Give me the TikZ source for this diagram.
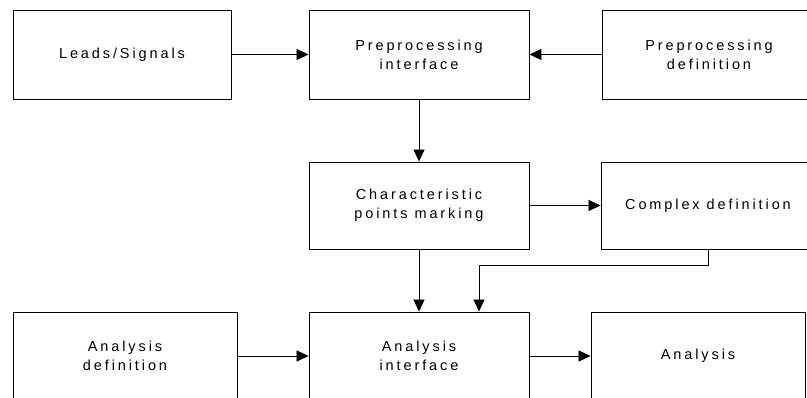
\documentclass[tikz,border=0pt]{standalone}
\usepackage{fontspec}
\newfontfamily\boxfont[LetterSpace=20]{Liberation Sans}
\usetikzlibrary{arrows.meta}
\tikzset{
  >={Triangle[length=12pt,width=11pt]},
  blk/.style={rectangle,draw,line width=0.9pt,minimum width=220pt,minimum height=89pt,inner sep=0pt,align=center,font=\boxfont\fontsize{14.5}{19}\selectfont},
  every picture/.style={line width=0.8pt},
}
\begin{document}
\begin{tikzpicture}[x=1pt,y=-1pt]
\useasboundingbox (0,0) rectangle (807,398); \clip (0,0) rectangle (807,398);
\node[blk,minimum width=218pt] (ls) at (122,54.5){Leads/Signals};
\node[blk] (pi) at (419,54.5){Preprocessing\\interface};
\node[blk,minimum width=214pt] (pd) at (709,54.5){Preprocessing\\definition};
\node[blk,minimum height=87pt] (cp) at (419,205.5){Characteristic\\points marking};
\node[blk,minimum width=214pt,minimum height=87pt] (cd) at (708,205.5){Complex definition};
\node[blk,minimum width=224pt,minimum height=88pt] (ad) at (125,356){Analysis\\definition};
\node[blk,minimum height=88pt] (ai) at (419,356){Analysis\\interface};
\node[blk,minimum width=214pt,minimum height=88pt] (an) at (698,356){Analysis};
\coordinate (j) at (479,265);
\draw[->] (ls)--(pi); \draw[->] (pd)--(pi); \draw[->] (pi)--(cp); \draw[->] (cp)--(cd);
\draw[->] (cp)--(ai); \draw[->] (cd.south) |- (j) -- (j |- ai.north);
\draw[->] (ad)--(ai); \draw[->] (ai)--(an);
\end{tikzpicture}
\end{document}
